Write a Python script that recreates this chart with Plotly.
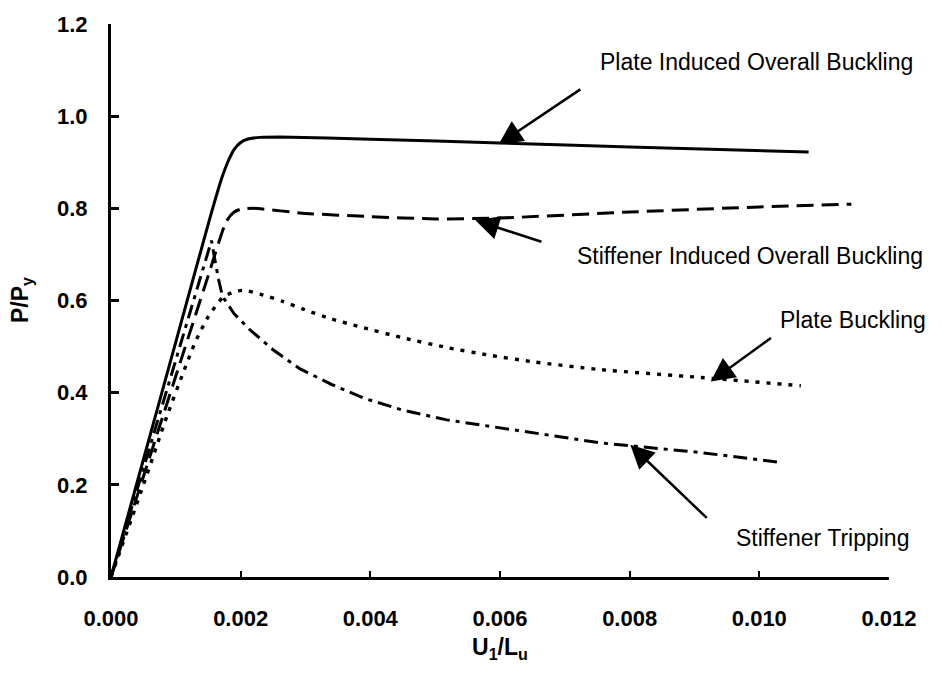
import plotly.graph_objects as go

# Load-shortening curves: normalised axial load P/Py against end shortening U1/Lu
plate_induced_x = [0.0, 0.0005, 0.0010, 0.00152, 0.0017, 0.0018, 0.0019, 0.0020, 0.0021, 0.0023,
                   0.0026, 0.0040, 0.0060, 0.0080, 0.01076]
plate_induced_y = [0.0, 0.255, 0.51, 0.776, 0.862, 0.900, 0.928, 0.943, 0.950, 0.954,
                   0.955, 0.950, 0.942, 0.933, 0.922]

stiffener_induced_x = [0.0, 0.0005, 0.0010, 0.00150, 0.00178, 0.0019, 0.0020, 0.0022, 0.0030,
                       0.0040, 0.0050, 0.0060, 0.0080, 0.0100, 0.01142]
stiffener_induced_y = [0.0, 0.218, 0.436, 0.654, 0.772, 0.792, 0.798, 0.800, 0.789,
                       0.782, 0.777, 0.779, 0.792, 0.803, 0.809]

plate_buckling_x = [0.0, 0.00050, 0.00086, 0.00111, 0.00130, 0.00150, 0.00172, 0.00190, 0.00205,
                    0.00230, 0.00265, 0.00299, 0.00340, 0.00384, 0.00450, 0.00518, 0.00585,
                    0.00651, 0.00755, 0.00910, 0.01064]
plate_buckling_y = [0.0, 0.200, 0.348, 0.442, 0.510, 0.565, 0.606, 0.619, 0.622,
                    0.614, 0.598, 0.580, 0.560, 0.543, 0.519, 0.498, 0.481,
                    0.467, 0.450, 0.433, 0.415]

tripping_x = [0.0, 0.0008, 0.00150, 0.00155, 0.00160, 0.00166, 0.00172, 0.00190, 0.00214,
              0.00250, 0.00291, 0.00340, 0.00390, 0.00450, 0.00518, 0.00651, 0.00755,
              0.00910, 0.01036]
tripping_y = [0.0, 0.377, 0.708, 0.730, 0.690, 0.645, 0.609, 0.571, 0.537,
              0.493, 0.452, 0.418, 0.388, 0.362, 0.341, 0.313, 0.291,
              0.270, 0.248]

x_ticks = [0.0, 0.002, 0.004, 0.006, 0.008, 0.010, 0.012]
x_tick_text = ["0.000", "0.002", "0.004", "0.006", "0.008", "0.010", "0.012"]
y_ticks = [0.0, 0.2, 0.4, 0.6, 0.8, 1.0, 1.2]
y_tick_text = ["0.0", "0.2", "0.4", "0.6", "0.8", "1.0", "1.2"]

# Callout labels: (text, label x, label y, arrow tip x, tip y, arrow tail x, tail y)
callouts = [
    ("Plate Induced Overall Buckling", 0.00995, 1.117, 0.00598, 0.939, 0.00727, 1.061),
    ("Stiffener Induced Overall Buckling", 0.00985, 0.696, 0.00562, 0.774, 0.00667, 0.726),
    ("Plate Buckling", 0.01145, 0.557, 0.00925, 0.424, 0.01021, 0.522),
    ("Stiffener Tripping", 0.01098, 0.085, 0.00801, 0.287, 0.00922, 0.124),
]

FONT = "Liberation Sans, Arial, Helvetica, sans-serif"
INK = "#000000"

fig = go.Figure()
fig.add_trace(go.Scatter(x=plate_induced_x, y=plate_induced_y, mode="lines",
                         line=dict(color=INK, width=3, shape="spline", smoothing=0.6)))
fig.add_trace(go.Scatter(x=stiffener_induced_x, y=stiffener_induced_y, mode="lines",
                         line=dict(color=INK, width=3, dash="17px,8px", shape="spline", smoothing=0.6)))
fig.add_trace(go.Scatter(x=plate_buckling_x, y=plate_buckling_y, mode="lines",
                         line=dict(color=INK, width=3.4, dash="4px,7px", shape="spline", smoothing=0.6)))
fig.add_trace(go.Scatter(x=tripping_x, y=tripping_y, mode="lines",
                         line=dict(color=INK, width=3, dash="14px,6px,4px,6px")))

annotations = []
for text, lx, ly, tx, ty, ax, ay in callouts:
    annotations.append(dict(x=tx, y=ty, ax=ax, ay=ay, xref="x", yref="y", axref="x", ayref="y",
                            text=" ", showarrow=True, arrowhead=2, arrowsize=1.9,
                            arrowwidth=2.5, arrowcolor=INK, font=dict(size=2)))
    annotations.append(dict(x=lx, y=ly, xref="x", yref="y", text=text, showarrow=False,
                            xanchor="center", yanchor="middle",
                            font=dict(family=FONT, size=23, color=INK)))

# Axis titles
annotations.append(dict(x=0.5, y=-0.130, xref="paper", yref="paper",
                        text="<b>U<sub>1</sub>/L<sub>u</sub></b>", showarrow=False,
                        xanchor="center", yanchor="middle",
                        font=dict(family=FONT, size=23, color=INK)))
annotations.append(dict(x=-0.115, y=0.5, xref="paper", yref="paper",
                        text="<b>P/P<sub>y</sub></b>", showarrow=False, textangle=-90,
                        xanchor="center", yanchor="middle",
                        font=dict(family=FONT, size=23, color=INK)))

fig.update_layout(
    width=943, height=677,
    margin=dict(l=111, r=54, t=24, b=100),
    paper_bgcolor="white", plot_bgcolor="white",
    showlegend=False,
    annotations=annotations,
    font=dict(family=FONT, color=INK),
)
fig.update_xaxes(range=[0, 0.012], tickvals=x_ticks, ticktext=x_tick_text,
                 showgrid=False, zeroline=False, showline=True, linewidth=3, linecolor=INK,
                 ticks="inside", ticklen=6, tickwidth=2, tickcolor=INK,
                 ticklabelstandoff=20,
                 tickfont=dict(family=FONT, size=22, color=INK, weight="bold"))
fig.update_yaxes(range=[0, 1.2], tickvals=y_ticks, ticktext=y_tick_text,
                 showgrid=False, zeroline=False, showline=True, linewidth=3, linecolor=INK,
                 ticks="inside", ticklen=8, tickwidth=2.5, tickcolor=INK,
                 ticklabelstandoff=16,
                 tickfont=dict(family=FONT, size=22, color=INK, weight="bold"))

fig.write_html("out.html")
